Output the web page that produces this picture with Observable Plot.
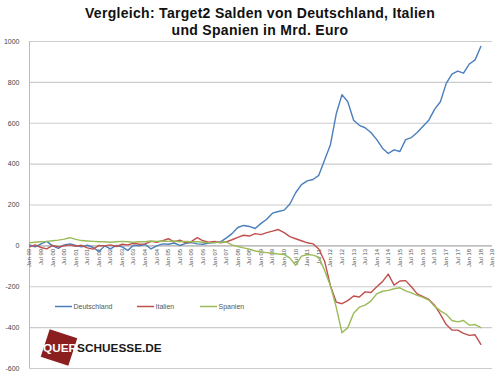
<!DOCTYPE html>
<html>
<head>
<meta charset="utf-8">
<script src="https://cdn.jsdelivr.net/npm/d3@7"></script>
<script src="https://cdn.jsdelivr.net/npm/@observablehq/plot@0.6"></script>
<style>
  html, body { margin: 0; padding: 0; background: #fff; }
  #wrap { position: relative; width: 500px; height: 386px; overflow: hidden; }
  #wrap > svg { position: absolute; left: 0; top: 0; }
</style>
</head>
<body>
<div id="wrap"></div>
<script>
const quarters = [
  "1999-01","1999-04","1999-07","1999-10","2000-01","2000-04","2000-07","2000-10",
  "2001-01","2001-04","2001-07","2001-10","2002-01","2002-04","2002-07","2002-10",
  "2003-01","2003-04","2003-07","2003-10","2004-01","2004-04","2004-07","2004-10",
  "2005-01","2005-04","2005-07","2005-10","2006-01","2006-04","2006-07","2006-10",
  "2007-01","2007-04","2007-07","2007-10","2008-01","2008-04","2008-07","2008-10",
  "2009-01","2009-04","2009-07","2009-10","2010-01","2010-04","2010-07","2010-10",
  "2011-01","2011-04","2011-07","2011-10","2012-01","2012-04","2012-07","2012-10",
  "2013-01","2013-04","2013-07","2013-10","2014-01","2014-04","2014-07","2014-10",
  "2015-01","2015-04","2015-07","2015-10","2016-01","2016-04","2016-07","2016-10",
  "2017-01","2017-04","2017-07","2017-10","2018-01","2018-04","2018-07"
];
const deutschland = [
  5, -5, 10, 22,  0, -12, 5, 10,  2, -5, 3, -8,  -28, 0, -15, 2,
  -5, -22, 3, 0,  8, -15, 0, 10,  8, 14, 2, 12,  16, 10, 8, 14,
  16, 20, 38, 60,  90, 100, 95, 85,  110, 130, 160, 168,  175, 205, 260, 300,
  318, 325, 345, 420,  495, 645, 740, 705,  615, 590, 578, 555,  520, 478, 452, 470,
  462, 520, 530, 555,  585, 615, 668, 705,  795, 840, 855, 845,  890, 910, 976
];
const italien = [
  -5, 5, -8, -15,  2, -5, 0, 5,  -2, 3, -10, -16,  2, 0, 5, -3,
  8, 5, 13, 8,  10, 22, 18, 25,  35, 20, 28, 15,  22, 40, 25, 18,
  22, 15, 20, 30,  42, 52, 48, 60,  55, 65, 72, 80,  65, 45, 35, 25,
  15, 10, -15, -75,  -195, -275, -283, -268,  -245, -250, -225, -228,  -200, -175, -138, -192,
  -172, -170, -200, -235,  -248, -262, -290, -335,  -385, -412, -412, -428,  -438, -435, -482
];
const spanien = [
  15, 18, 20, 22,  25, 28, 33, 40,  32, 26, 24, 22,  20, 20, 18, 20,
  22, 20, 18, 20,  20, 24, 22, 24,  22, 24, 20, 22,  20, 20, 18, 16,
  16, 18, 20, 5,  -3, -10, -16, -25,  -30, -33, -36, -40,  -42, -60, -95, -50,
  -42, -45, -55, -120,  -195, -300, -425, -400,  -330, -300, -290, -270,  -235, -222, -218, -210,
  -205, -220, -230, -242,  -252, -265, -295, -318,  -335, -365, -372, -365,  -388, -385, -400
];
const seriesNames = ["Deutschland", "Italien", "Spanien"];
const seriesColors = ["#4a7ebb", "#c0504d", "#9bbb59"];
const yTicks = [-600, -400, -200, 0, 200, 400, 600, 800, 1000];
const xTickLabels = [
  "Jan 99","Jul 99","Jan 00","Jul 00","Jan 01","Jul 01","Jan 02","Jul 02","Jan 03","Jul 03",
  "Jan 04","Jul 04","Jan 05","Jul 05","Jan 06","Jul 06","Jan 07","Jul 07","Jan 08","Jul 08",
  "Jan 09","Jul 09","Jan 10","Jul 10","Jan 11","Jul 11","Jan 12","Jul 12","Jan 13","Jul 13",
  "Jan 14","Jul 14","Jan 15","Jul 15","Jan 16","Jul 16","Jan 17","Jul 17","Jan 18","Jul 18","Jan 19"
];

const parseQ = d3.utcParse("%Y-%m");
const parseTick = d3.utcParse("%b %y");
const valuesBySeries = [deutschland, italien, spanien];
const rows = [];
seriesNames.forEach((name, s) => {
  quarters.forEach((q, i) => rows.push({series: name, date: parseQ(q), value: valuesBySeries[s][i]}));
});
const xStart = parseTick(xTickLabels[0]);
const xEnd = parseTick(xTickLabels[xTickLabels.length - 1]);

const chart = Plot.plot({
  width: 500,
  height: 386,
  marginTop: 41,
  marginBottom: 18,
  marginLeft: 29,
  marginRight: 8,
  style: {fontFamily: "'Liberation Sans', Arial, sans-serif", background: "white"},
  x: {type: "utc", domain: [xStart, xEnd], axis: null},
  y: {domain: [yTicks[0], yTicks[yTicks.length - 1]]},
  color: {domain: seriesNames, range: seriesColors},
  marks: [
    Plot.gridY(yTicks, {stroke: "#cccccc", strokeOpacity: 1, strokeWidth: 1.2}),
    Plot.axisY(yTicks, {tickSize: 0, tickPadding: 10, fontSize: 7, fill: "#444", label: null, tickFormat: d => String(d)}),
    Plot.ruleX([xStart], {y1: yTicks[0], y2: yTicks[yTicks.length - 1], stroke: "#bbbbbb"}),
    Plot.ruleY([0], {stroke: "#b0b0b0"}),
    Plot.text(xTickLabels, {
      x: d => parseTick(d), y: 0, text: d => d, rotate: -90, textAnchor: "end",
      dy: 3, fontSize: 6, fill: "#555"
    }),
    Plot.lineY(rows, {x: "date", y: "value", z: "series", stroke: "series", strokeWidth: 1.4})
  ]
});
document.getElementById("wrap").appendChild(chart);

// Overlay: title, legend, logo
const ov = d3.select("#wrap").append("svg")
  .attr("width", 500).attr("height", 386)
  .style("pointer-events", "none")
  .style("font-family", "'Liberation Sans', Arial, sans-serif");

const titleLines = ["Vergleich: Target2 Salden von Deutschland, Italien", "und Spanien in Mrd. Euro"];
ov.selectAll("text.title").data(titleLines).join("text")
  .attr("class", "title")
  .attr("x", 260).attr("y", (d, i) => 17.5 + i * 17.5)
  .attr("text-anchor", "middle")
  .attr("font-size", 14).attr("font-weight", "bold").attr("fill", "#111")
  .attr("letter-spacing", 0.3)
  .text(d => d);

const legendX = [55, 137, 200];
const lg = ov.selectAll("g.leg").data(seriesNames).join("g")
  .attr("class", "leg")
  .attr("transform", (d, i) => `translate(${legendX[i]},306.5)`);
lg.append("line").attr("x1", 0).attr("x2", 17).attr("y1", 0).attr("y2", 0)
  .attr("stroke", (d, i) => seriesColors[i]).attr("stroke-width", 1.5);
lg.append("text").attr("x", 18.5).attr("y", 0).attr("dy", "0.35em")
  .attr("font-size", 7).attr("fill", "#555").text(d => d);

const logo = ov.append("g");
logo.append("rect")
  .attr("x", -14.5).attr("y", -14.5).attr("width", 29).attr("height", 29)
  .attr("transform", "translate(59,347.5) rotate(18)")
  .attr("fill", "#8b1e1e");
const lt = logo.append("text").attr("x", 43).attr("y", 352)
  .attr("font-size", 11.8).attr("font-weight", "bold");
lt.append("tspan").attr("fill", "#fff").text("QUER");
lt.append("tspan").attr("fill", "#1a1a1a").text("SCHUESSE.DE");
</script>
</body>
</html>
